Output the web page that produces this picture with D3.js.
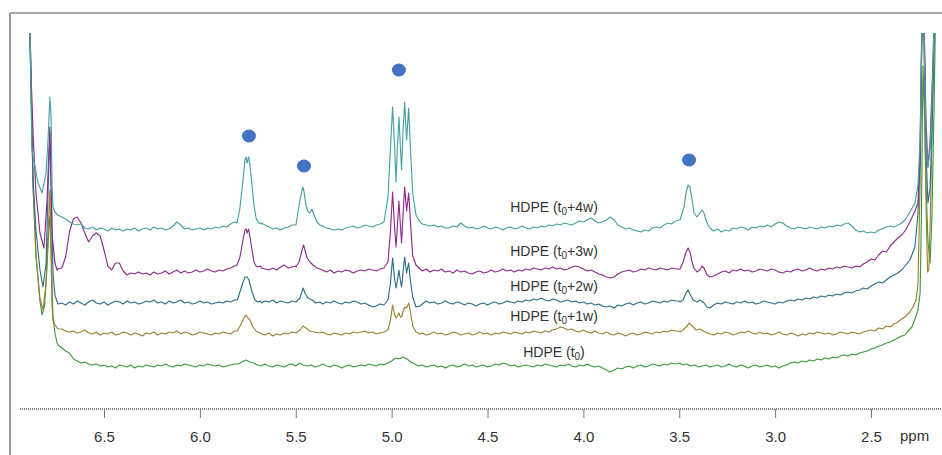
<!DOCTYPE html>
<html><head><meta charset="utf-8">
<script src="https://cdn.jsdelivr.net/npm/d3@7"></script>
<style>body{margin:0;background:#fff;} svg{display:block;}</style>
</head><body>
<svg id="chart" width="942" height="455"></svg>
<script>
const _ = null;
// ---------- DATA ----------
const tickValues = [6.5, 6.0, 5.5, 5.0, 4.5, 4.0, 3.5, 3.0, 2.5];
const axisUnit = "ppm";
const seriesNames = ["HDPE (t0)", "HDPE (t0+1w)", "HDPE (t0+2w)", "HDPE (t0+3w)", "HDPE (t0+4w)"];
// vertical stacking offset of each spectrum (intensity units)
const offsets = [34, 66, 97, 129, 172];
// chemical-shift grid (ppm) used by the baseline arrays: 6.90 -> 2.14, step 0.02
const ppmGrid = d3.range(239).map(i => +(6.90 - 0.02 * i).toFixed(2));
// marked signals [ppm, intensity]
const markers = [[5.744, 264], [5.457, 234], [4.962, 330], [3.449, 240]];

const base_4w = [_,_,_,_,_,_,_,_,_,
 11,9,6,4,3,4,0,-1,1,-2, 0,-1,-3,0,-2,-1,-3,-1,-2,0, -3,-1,0,-2,1,-1,0,-2,-1,2, 6,3,-1,0,-2,-1,0,-2,0,-1, 1,0,2,1,4,6,
 _,_,_,_,_,_,
 5,3,1,-1,0,-2,0,1,3,3,
 _,_,_,_,_,_,
 2,0,-1,-2,-1,-2,0,1,2,0,1,3,2,1,3,4,
 _,_,_,_,_,_,_,_,_,_,
 4,3,2,3,1,2,0,0,2,1, 5,2,0,1,-1,0,2,0,-1,1, 0,-2,0,1,-1,0,2,0,-1,1, 0,2,1,3,2,4,3,5,4,3, 5,7,6,8,10,7,5,6,8,11, 8,3,1,-1,0,-2,-3,-4,-2,-3, 0,1,0,3,5,4,7,8,
 _,_,_,_,_,_,_,_,
 -3,-1,-4,-2,-3,0,-1,1,0,-2, 1,0,2,1,3,1,4,6,5,2, 0,-1,1,0,-1,1,0,-1,1,0, 2,1,3,2,4,5,2,-2,-4,-3, -5,-4,-5,-2,-1,1,2,1,3,5,
 _,_,_,_,_,_,_,_,_,_];
const peaks_4w = [
 [6.90,260],[6.892,260],[6.886,200],[6.876,78],[6.86,61],[6.844,45],[6.823,35],[6.802,55],[6.792,88],[6.782,131],[6.776,111],[6.771,41],[6.766,21],[6.756,16],[6.74,13],
 [5.806,5],[5.791,20],[5.775,48],[5.765,68],[5.759,71],[5.754,65],[5.746,71],[5.739,63],[5.728,43],[5.718,23],[5.707,10],[5.697,6],[5.682,4],
 [5.499,3],[5.478,28],[5.467,38],[5.462,41],[5.457,36],[5.447,23],[5.436,16],[5.426,15],[5.415,19],[5.405,13],[5.389,6],[5.374,3],
 [5.04,6],[5.019,31],[5.006,80],[4.995,121],[4.985,85],[4.977,46],[4.970,80],[4.962,111],[4.954,80],[4.948,58],[4.941,95],[4.932,126],[4.922,88],[4.911,120],[4.902,80],[4.890,35],[4.873,13],[4.852,6],
 [3.496,8],[3.475,21],[3.465,35],[3.454,43],[3.444,41],[3.433,28],[3.423,15],[3.407,11],[3.392,15],[3.381,18],[3.371,15],[3.355,5],[3.340,0],
 [2.323,8],[2.297,16],[2.271,25],[2.255,43],[2.244,88],[2.237,168],[2.229,278],[2.221,168],[2.213,88],[2.203,61],[2.192,78],[2.182,128],[2.171,198],[2.161,278],[2.156,290],[2.148,260],[2.140,220]];

const base_3w = [_,_,_,_,_,_,_,_,_,
 3,14,39,52,54,48,38,29,35,38, 35,21,5,1,8,8,0,-4,-2,-3, -1,-3,-2,-4,-1,-3,-2,0,-3,-1, 1,-2,0,-2,-1,1,-1,0,2,0, -1,1,0,2,3,5,
 _,_,_,_,_,_,
 3,2,1,3,1,4,6,3,4,5,
 _,_,_,_,_,_,
 1,-1,1,-2,0,-1,1,0,-2,0,1,0,2,1,0,2,
 _,_,_,_,_,_,_,_,_,_,
 0,2,-1,1,0,2,-1,0,-2,1, -1,0,-2,-3,-1,0,-2,-1,1,-1, 0,2,0,1,-1,1,0,2,1,3, 2,1,3,2,4,2,3,1,2,4, 5,4,2,0,1,-1,-3,-4,-6,-7, -6,-3,-1,0,1,-1,0,2,1,3, 2,1,3,2,1,3,2,2,
 _,_,_,_,_,_,_,_,
 -5,-3,-1,0,-2,1,0,2,0,1, -1,0,2,1,0,2,1,-1,-2,0, -1,1,2,0,1,3,1,0,2,1, 3,2,4,3,5,4,3,5,4,7, 9,12,11,16,20,19,25,29,33,36,
 _,_,_,_,_,_,_,_,_,_];
const peaks_3w = [
 [6.90,300],[6.891,300],[6.881,200],[6.870,138],[6.855,78],[6.834,38],[6.813,23],[6.797,71],[6.787,121],[6.782,144],[6.771,38],[6.756,8],[6.745,1],[6.74,2],
 [5.806,6],[5.791,14],[5.775,31],[5.765,41],[5.759,42],[5.754,38],[5.746,42],[5.739,34],[5.728,21],[5.718,9],[5.707,5],[5.697,4],[5.682,5],
 [5.499,4],[5.483,9],[5.467,21],[5.459,26],[5.452,21],[5.441,13],[5.426,9],[5.410,6],[5.389,3],[5.374,2],
 [5.04,3],[5.019,9],[5.006,40],[4.995,79],[4.985,45],[4.977,24],[4.970,45],[4.962,70],[4.954,45],[4.948,28],[4.941,55],[4.932,84],[4.922,60],[4.911,78],[4.902,50],[4.890,15],[4.873,6],[4.852,2],
 [3.496,2],[3.480,9],[3.465,19],[3.454,23],[3.444,19],[3.433,9],[3.423,3],[3.407,-1],[3.392,1],[3.381,5],[3.371,3],[3.355,-4],[3.340,-6],
 [2.323,40],[2.297,49],[2.271,60],[2.255,68],[2.244,120],[2.237,220],[2.229,320],[2.221,230],[2.213,150],[2.203,104],[2.192,130],[2.182,180],[2.171,250],[2.161,320],[2.156,330],[2.148,300],[2.140,250]];

const base_2w = [_,_,_,_,_,_,_,_,_,
 0,-2,1,-1,2,0,-2,1,3,0, -1,1,-2,0,2,1,-1,2,0,1, -1,0,2,1,3,0,1,-1,2,0, 1,3,0,1,-1,0,2,0,1,-1, 0,1,0,2,1,3,
 _,_,_,_,_,_,
 0,2,1,3,0,2,1,0,2,1,
 _,_,_,_,_,_,
 -1,1,0,2,0,-1,1,0,2,1,-1,0,-2,-4,-3,-1,
 _,_,_,_,_,_,_,_,_,_,
 -1,2,0,1,-1,0,2,0,-1,1, 0,-2,0,-1,-3,-1,0,-2,0,1, -1,0,2,1,0,2,1,3,2,4, 3,5,3,2,4,3,1,2,3,1, 2,0,1,-1,0,-2,-1,-3,-4,-3, -5,-2,-3,-1,0,-2,0,1,-1,0, 2,1,0,2,1,3,2,2,
 _,_,_,_,_,_,_,_,
 -2,0,-1,1,0,-1,1,0,2,0, 1,-1,0,2,1,0,-1,1,0,2, 3,2,4,3,5,4,6,5,7,6, 8,7,9,8,10,11,10,12,13,15, 14,17,19,21,20,23,26,28,30,33,
 _,_,_,_,_,_,_,_,_,_];
const peaks_2w = [
 [6.90,320],[6.891,320],[6.881,230],[6.870,123],[6.855,73],[6.834,33],[6.818,16],[6.802,40],[6.792,110],[6.782,170],[6.776,120],[6.766,30],[6.756,8],[6.74,-1],
 [5.806,3],[5.801,5],[5.780,18],[5.765,26],[5.754,26],[5.744,23],[5.728,11],[5.713,3],[5.697,1],[5.682,2],
 [5.499,1],[5.478,5],[5.462,15],[5.452,10],[5.436,5],[5.415,3],[5.395,0],[5.374,1],
 [5.04,-2],[5.019,3],[5.006,20],[4.995,45],[4.985,25],[4.977,15],[4.970,22],[4.962,33],[4.954,22],[4.948,16],[4.941,30],[4.932,46],[4.922,30],[4.911,40],[4.902,22],[4.890,6],[4.873,-4],[4.852,-3],
 [3.496,1],[3.480,3],[3.465,10],[3.454,13],[3.444,9],[3.428,3],[3.407,1],[3.392,3],[3.371,0],[3.355,-4],[3.340,-5],
 [2.323,37],[2.297,43],[2.271,56],[2.255,90],[2.244,140],[2.237,240],[2.229,340],[2.221,250],[2.213,150],[2.203,100],[2.192,115],[2.182,170],[2.171,260],[2.161,340],[2.156,350],[2.148,330],[2.140,280]];

const base_1w = [_,_,_,_,_,_,_,_,_,
 5,3,2,3,1,2,4,1,0,2, -1,1,0,2,-1,0,2,1,-1,1, 0,-2,1,0,2,-1,1,0,2,1, 3,0,2,1,-1,0,2,1,0,-1, 1,0,2,1,0,3,
 _,_,_,_,_,_,
 0,-1,1,-2,0,-1,1,0,2,1,
 _,_,_,_,_,_,
 2,0,-1,1,0,-1,1,0,2,1,2,3,1,2,0,1,
 _,_,_,_,_,_,_,_,_,_,
 1,-1,0,2,0,1,-1,0,2,1, -1,0,1,-1,0,2,0,1,-1,1, 0,2,1,0,2,1,0,2,1,3, 2,1,3,2,4,5,7,6,4,5, 3,2,4,2,1,3,1,0,2,0, -1,1,0,-2,0,1,-1,0,2,1, 0,2,1,3,2,4,3,3,
 _,_,_,_,_,_,_,_,
 -1,1,0,2,1,-1,0,2,1,3, 1,0,2,0,1,-1,0,2,0,-1, 1,0,-2,0,-1,1,0,2,1,0, 1,-1,0,2,1,0,2,1,0,2, 3,4,3,6,5,8,7,10,12,15,
 _,_,_,_,_,_,_,_,_,_];
const peaks_1w = [
 [6.90,340],[6.891,340],[6.881,250],[6.870,150],[6.855,80],[6.834,35],[6.818,24],[6.802,50],[6.792,100],[6.782,144],[6.776,90],[6.766,14],[6.756,9],[6.74,5],
 [5.806,3],[5.801,4],[5.780,12],[5.770,16],[5.759,19],[5.749,16],[5.739,14],[5.723,7],[5.707,3],[5.686,1],[5.682,1],
 [5.499,1],[5.478,4],[5.462,8],[5.447,6],[5.426,3],[5.405,2],[5.374,1],
 [5.04,2],[5.019,4],[5.006,14],[4.995,29],[4.985,20],[4.977,16],[4.970,18],[4.962,21],[4.954,17],[4.948,17],[4.941,22],[4.932,27],[4.922,26],[4.911,31],[4.902,22],[4.890,8],[4.873,2],[4.852,0],
 [3.496,2],[3.480,4],[3.459,8],[3.449,11],[3.433,8],[3.412,4],[3.392,5],[3.366,2],[3.340,0],
 [2.323,17],[2.297,22],[2.281,27],[2.265,34],[2.255,50],[2.244,150],[2.237,260],[2.229,360],[2.221,250],[2.213,130],[2.205,62],[2.198,65],[2.190,120],[2.180,220],[2.171,300],[2.161,370],[2.156,380],[2.148,370],[2.140,340]];

const base_t0 = [_,_,_,_,_,_,_,_,_,
 18,15,13,7,5,3,4,2,1,2, 0,1,-1,0,-2,1,0,-1,1,-2, 0,-1,1,0,-1,1,0,2,0,-1, 1,0,2,1,0,-1,1,0,2,1, 0,1,-1,0,1,2,
 2,4,6,4,3,1,0,2,0,-1, 1,0,-1,1,2,0,3,1,0,1, -1,0,2,0,-1,1,0,-2,0,1, -1,0,1,0,2,1,0,2,1,3,
 5,8,7,9,7,4,2,0,
 1,-1,0,1,-1,0,-2,0,1,-1, 0,2,0,1,-1,0,1,-1,0,2, 1,3,2,0,1,-1,0,1,0,-1, 1,0,2,1,0,-1,1,0,2,0, -1,1,0,2,0,-1,0,-2,-4,-6, -4,-2,-3,-1,0,-2,0,1,-1,0, 2,1,0,2,1,3,2,3,1,2, 0,1,-1,0,1,-1,0,
 1,-1,0,2,0,-1,1,0,-2,0, 1,-1,0,1,-1,0,-2,0,1,3, 4,3,5,4,6,5,7,6,8,7, 9,8,10,11,10,12,11,13,14,15, 17,18,20,21,23,24,26,28,30,
 _,_,_,_,_,_,_,_,_,_];
const peaks_t0 = [
 [6.90,370],[6.891,370],[6.881,280],[6.870,180],[6.855,110],[6.834,65],[6.823,51],[6.810,60],[6.797,100],[6.787,140],[6.782,150],[6.776,110],[6.771,60],[6.766,49],[6.756,33],[6.745,23],[6.74,21],
 [2.323,31],[2.307,35],[2.286,39],[2.265,50],[2.255,56],[2.244,73],[2.237,150],[2.229,300],[2.221,250],[2.213,180],[2.203,125],[2.192,103],[2.182,150],[2.171,260],[2.161,380],[2.156,400],[2.148,390],[2.140,380]];

// ---------- DRAWING ----------
const W = 942, H = 455;
const colors = ["#3e9a3e", "#9b8032", "#2f6e8b", "#8e2c8e", "#45a2a0"];
const labelY = [357, 321, 291, 256, 212];
const fontLabel = "'Liberation Sans', Arial, sans-serif";

const x = d3.scaleLinear().domain([6.5, 2.5]).range([104, 871]);
const y = d3.scaleLinear().domain([0, 367]).range([400, 33]);

const svg = d3.select("#chart");
svg.append("rect").attr("width", W).attr("height", H).attr("fill", "#fff");

// frame
svg.append("line").attr("x1", 10).attr("x2", W).attr("y1", 13).attr("y2", 13)
  .attr("stroke", "#8a8a8a").attr("stroke-width", 1.5);
svg.append("line").attr("x1", 10).attr("x2", 10).attr("y1", 13).attr("y2", H)
  .attr("stroke", "#9a9a9a").attr("stroke-width", 2);

svg.append("defs").append("clipPath").attr("id", "plotclip")
  .append("rect").attr("x", 20).attr("y", 33).attr("width", W - 20).attr("height", 370);

function buildTrace(base, peaks) {
  const pts = [];
  base.forEach((v, i) => { if (v !== null) pts.push([ppmGrid[i], v]); });
  peaks.forEach(p => pts.push(p));
  pts.sort((a, b) => b[0] - a[0]);
  return pts;
}
const bases = [base_t0, base_1w, base_2w, base_3w, base_4w];
const peaks = [peaks_t0, peaks_1w, peaks_2w, peaks_3w, peaks_4w];
const series = seriesNames.map((name, k) => ({
  name, offset: offsets[k], color: colors[k], pts: buildTrace(bases[k], peaks[k])
}));

const plot = svg.append("g").attr("clip-path", "url(#plotclip)");
series.forEach(s => {
  const line = d3.line().x(d => x(d[0])).y(d => y(s.offset + d[1]));
  plot.append("path").datum(s.pts).attr("d", line)
    .attr("fill", "none").attr("stroke", s.color).attr("stroke-width", 1.15)
    .attr("stroke-linejoin", "round");
});

// markers
svg.selectAll("ellipse.mk").data(markers).join("ellipse").attr("class", "mk")
  .attr("cx", d => x(d[0])).attr("cy", d => y(d[1]))
  .attr("rx", 7).attr("ry", 6.5).attr("fill", "#4472c4");

// labels with subscript 0
series.forEach((s, k) => {
  const m = s.name.match(/^(.*\(t)(0)(.*)$/);
  const t = svg.append("text").attr("x", 554).attr("y", labelY[k])
    .attr("text-anchor", "middle").attr("font-family", fontLabel)
    .attr("font-size", 14).attr("fill", "#333");
  t.append("tspan").text(m[1]);
  t.append("tspan").attr("font-size", 10).attr("dy", 3).text(m[2]);
  t.append("tspan").attr("dy", -3).text(m[3]);
});

// axis
const axisY = 409;
svg.append("line").attr("x1", 20).attr("x2", W).attr("y1", axisY).attr("y2", axisY)
  .attr("stroke", "#555").attr("stroke-width", 1.6).attr("stroke-dasharray", "1,1");
const ax = svg.append("g").attr("transform", `translate(0,${axisY})`)
  .call(d3.axisBottom(x).tickValues(tickValues).tickSize(9).tickPadding(13).tickFormat(d3.format(".1f")));
ax.select(".domain").remove();
ax.selectAll(".tick line").attr("stroke", "#777");
ax.selectAll(".tick text").attr("font-family", fontLabel).attr("font-size", 15).attr("fill", "#333");
svg.append("text").attr("x", 900).attr("y", axisY + 32).attr("font-family", fontLabel)
  .attr("font-size", 15).attr("fill", "#333").text(axisUnit);
</script>
</body></html>
